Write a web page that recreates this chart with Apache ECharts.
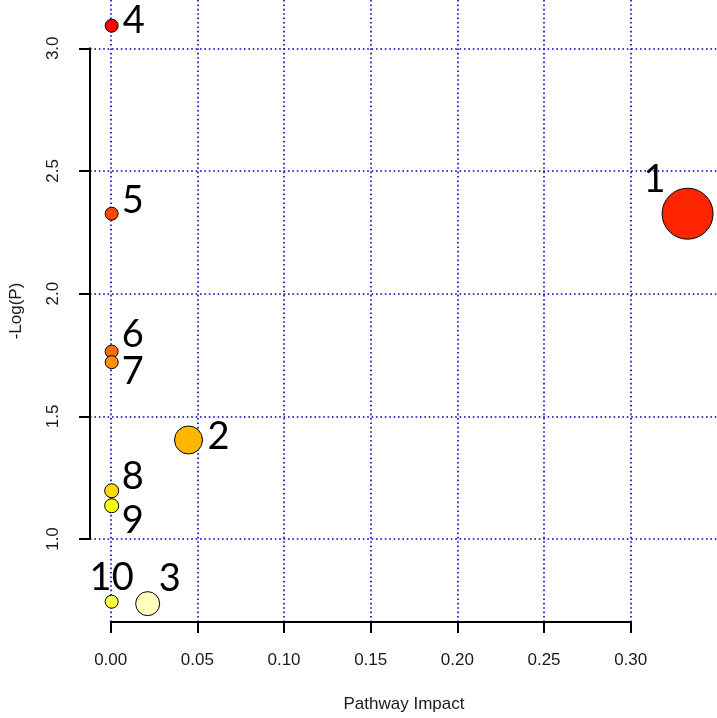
<!DOCTYPE html>
<html>
<head>
<meta charset="utf-8">
<script src="https://cdn.jsdelivr.net/npm/echarts@6/dist/echarts.min.js"></script>
<style>
  html, body { margin: 0; padding: 0; background: #ffffff; }
  #chart { width: 717px; height: 718px; }
</style>
</head>
<body>
<div id="chart"></div>
<script>
// ---- data ----
const pathwayIds = ['1', '2', '3', '4', '5', '6', '7', '8', '9', '10'];
const impact     = [0.3328, 0.0444, 0.0208, 0, 0, 0, 0, 0, 0, 0];
const negLogP    = [2.326, 1.404, 0.737, 3.092, 2.326, 1.764, 1.721, 1.197, 1.136, 0.745];
const xTicks = [0, 0.05, 0.10, 0.15, 0.20, 0.25, 0.30];
const yTicks = [1.0, 1.5, 2.0, 2.5, 3.0];

// ---- styles ----
const pointSize   = [51, 28, 24, 13, 13, 13, 13, 14, 14, 13];
const pointColors = ['#FF2400', '#FFB600', '#FFFFBF', '#FF0000', '#FF4900',
                     '#FF6D00', '#FF9200', '#FFDB00', '#FFFF00', '#FFFF40'];
const labelOffsets = [[-33, -34], [30, -3], [22, -25], [22, -5], [21, -13],
                      [21, -17], [21, 10], [21, -14], [21, 15], [0, -24]];

const gridLine = { show: true, lineStyle: { color: '#0000b8', width: 1.6, type: [1.6, 2.8] } };
const tickFont = { fontFamily: 'Liberation Sans', fontSize: 17, color: '#1a1a1a' };

const chart = echarts.init(document.getElementById('chart'), null, { renderer: 'canvas' });

const data = pathwayIds.map((id, i) => ({
  name: id,
  value: [impact[i], negLogP[i]],
  symbolSize: pointSize[i],
  itemStyle: { color: pointColors[i] },
  label: { offset: labelOffsets[i] }
}));

chart.setOption({
  animation: false,
  backgroundColor: '#ffffff',
  grid: [
    { left: 90, right: 0, top: 0, bottom: 96 },          // data region
    { left: 90, right: 0, top: 48.3, bottom: 179 },      // y axis 1.0 - 3.0
    { left: 110.7, width: 520, top: 0, bottom: 96 }      // x axis 0 - 0.30
  ],
  xAxis: [
    {
      gridIndex: 0, type: 'value', min: -0.01194, max: 0.34979,
      axisLine: { show: false }, axisTick: { show: false }, axisLabel: { show: false },
      splitLine: { show: false },
      name: 'Pathway Impact', nameLocation: 'middle', nameGap: 74,
      nameTextStyle: { fontFamily: 'Liberation Sans', fontSize: 17, color: '#1a1a1a' }
    },
    {
      gridIndex: 1, type: 'value', show: false, min: 0, max: 1
    },
    {
      gridIndex: 2, type: 'value', min: xTicks[0], max: xTicks[xTicks.length - 1], interval: 0.05,
      offset: 5,
      axisLine: { show: true, lineStyle: { color: '#000', width: 2 } },
      axisTick: { show: true, length: 11, inside: false, lineStyle: { color: '#000', width: 2 } },
      axisLabel: Object.assign({ margin: 25, formatter: v => v.toFixed(2) }, tickFont),
      splitLine: gridLine
    }
  ],
  yAxis: [
    {
      gridIndex: 0, type: 'value', min: 0.6622, max: 3.1968,
      axisLine: { show: false }, axisTick: { show: false }, axisLabel: { show: false },
      splitLine: { show: false },
      name: '-Log(P)', nameLocation: 'middle', nameGap: 66,
      nameTextStyle: { fontFamily: 'Liberation Sans', fontSize: 17, color: '#1a1a1a' }
    },
    {
      gridIndex: 1, type: 'value', min: yTicks[0], max: yTicks[yTicks.length - 1], interval: 0.5,
      offset: 3,
      axisLine: { show: true, lineStyle: { color: '#000', width: 2 } },
      axisTick: { show: true, length: 11, inside: false, lineStyle: { color: '#000', width: 2 } },
      axisLabel: Object.assign({ margin: 25, rotate: 90, formatter: v => v.toFixed(1) }, tickFont),
      splitLine: gridLine
    },
    {
      gridIndex: 2, type: 'value', show: false, min: 0, max: 1
    }
  ],
  series: [{
    type: 'scatter',
    xAxisIndex: 0, yAxisIndex: 0,
    clip: false,
    data: data,
    itemStyle: { borderColor: '#000', borderWidth: 1, opacity: 1 },
    label: {
      show: true,
      position: 'inside',
      formatter: p => p.name,
      fontFamily: 'Lato',
      fontSize: 38,
      color: '#000',
      align: 'center',
      verticalAlign: 'middle'
    },
    emphasis: { disabled: true }
  }]
});
</script>
</body>
</html>
